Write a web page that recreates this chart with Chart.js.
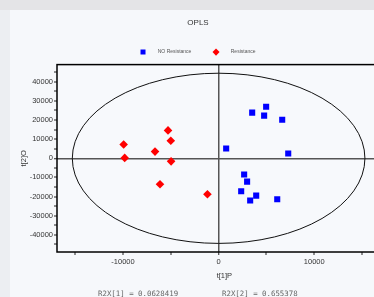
<!DOCTYPE html>
<html>
<head>
<meta charset="utf-8">
<script src="https://cdn.jsdelivr.net/npm/chart.js@4/dist/chart.umd.min.js"></script>
<style>
  html, body { margin: 0; padding: 0; width: 374px; height: 297px; overflow: hidden; background: #e4e4e7; }
  #leftband { position: absolute; left: 0; top: 10px; width: 10px; height: 287px; background: #eceef2; }
  #panel { position: absolute; left: 10px; top: 10px; width: 386px; height: 287px; background: #f6f8fb; }
  #wrap { position: absolute; left: 0; top: 0; width: 396px; height: 297px; }
  .r2x { position: absolute; top: 289px; font: 7.4px "DejaVu Sans Mono", monospace; color: #666; white-space: pre; }
</style>
</head>
<body>
<div id="leftband"></div>
<div id="panel"></div>
<div id="wrap"><canvas id="c" width="396" height="297"></canvas></div>
<div class="r2x" style="left:98px">R2X[1] = 0.0628419</div>
<div class="r2x" style="left:222px">R2X[2] = 0.655378</div>
<script>
// t[1]P / t[2]O scores
const noResX = [4970, 3510, 4760, 6650, 790, 7280, 2670, 2980, 2360, 3930, 3300, 6130];
const noResY = [27000, 23900, 22300, 20200, 5100, 2500, -8500, -12200, -17200, -19500, -22100, -21400];
const resX = [-9930, -9820, -5290, -5000, -6650, -4970, -6130, -1170];
const resY = [7200, 200, 14600, 9200, 3500, -1600, -13600, -18800];
const seriesNames = ['NO Resistance', 'Resistance'];
const xTicks = [-15000, -10000, -5000, 0, 5000, 10000, 15000];
const yTicks = [-45000, -40000, -35000, -30000, -25000, -20000, -15000, -10000, -5000, 0,
  5000, 10000, 15000, 20000, 25000, 30000, 35000, 40000, 45000];
const ellipseAxes = [15300, 44500]; // Hotelling T2 semi-axes

const pts = (xs, ys) => xs.map((x, i) => ({ x, y: ys[i] }));
const setTicks = vals => s => { s.ticks = vals.map(v => ({ value: v })); };

const plotBg = {
  id: 'plotBg',
  beforeDraw(chart) {
    const { ctx, chartArea: a } = chart;
    ctx.save();
    ctx.fillStyle = '#f7f9fc';
    ctx.fillRect(a.left, a.top, a.right - a.left, a.bottom - a.top);
    ctx.restore();
  },
  beforeDatasetsDraw(chart) {
    const { ctx, chartArea: a, scales: { x, y } } = chart;
    const cx = x.getPixelForValue(0), cy = y.getPixelForValue(0);
    const rx = x.getPixelForValue(ellipseAxes[0]) - cx;
    const ry = cy - y.getPixelForValue(ellipseAxes[1]);
    ctx.save();
    ctx.beginPath();
    ctx.rect(a.left, a.top, a.right - a.left, a.bottom - a.top);
    ctx.clip();
    ctx.beginPath();
    ctx.ellipse(cx, cy, rx, ry, 0, 0, Math.PI * 2);
    ctx.strokeStyle = '#111';
    ctx.lineWidth = 1;
    ctx.stroke();
    ctx.restore();
  },
  afterDraw(chart) {
    const { ctx, chartArea: a } = chart;
    ctx.save();
    ctx.strokeStyle = '#000';
    ctx.lineWidth = 1.5;
    ctx.strokeRect(a.left, a.top, a.right - a.left, a.bottom - a.top);
    ctx.restore();
  }
};

const zeroGrid = {
  color: c => (c.tick && c.tick.value === 0 ? '#555' : 'rgba(0,0,0,0)'),
  lineWidth: c => (c.tick && c.tick.value === 0 ? 1.5 : 0),
  tickColor: '#222',
  tickWidth: 1,
  tickLength: 3,
  drawTicks: true
};

const tickFont = { family: 'Liberation Sans', size: 7.5 };
const labelEvery10k = v => (v % 10000 === 0 ? String(v) : '');

new Chart(document.getElementById('c'), {
  type: 'scatter',
  data: {
    datasets: [
      {
        label: seriesNames[0],
        data: pts(noResX, noResY),
        pointStyle: 'rect',
        pointRadius: 4.3,
        backgroundColor: '#0000ff',
        borderColor: '#0000ff',
        borderWidth: 0
      },
      {
        label: seriesNames[1],
        data: pts(resX, resY),
        pointStyle: 'rectRot',
        pointRadius: 4.3,
        backgroundColor: '#ff0000',
        borderColor: '#ff0000',
        borderWidth: 0
      }
    ]
  },
  options: {
    responsive: false,
    animation: false,
    layout: { padding: { left: 0, right: 0, top: 0, bottom: 15 } },
    plugins: {
      title: {
        display: true,
        text: 'OPLS',
        color: '#333',
        font: { family: 'Liberation Sans', size: 8, weight: 'normal' },
        padding: { top: 18, bottom: 4 }
      },
      legend: {
        position: 'top',
        labels: {
          usePointStyle: true,
          color: '#555',
          font: { family: 'Liberation Sans', size: 5, lineHeight: 1 },
          padding: 18,
          generateLabels(chart) {
            const items = Chart.defaults.plugins.legend.labels.generateLabels(chart);
            items.forEach((it, i) => {
              it.text = '       ' + it.text + (i === 0 ? '   ' : '');
              it.lineWidth = 0;
            });
            return items;
          }
        }
      },
      tooltip: { enabled: false }
    },
    scales: {
      x: {
        type: 'linear',
        min: -16900,
        max: 18100,
        border: { display: false },
        grid: zeroGrid,
        afterBuildTicks: setTicks(xTicks),
        ticks: {
          autoSkip: false,
          maxRotation: 0,
          padding: 2,
          color: '#333',
          font: tickFont,
          callback: labelEvery10k
        },
        title: {
          display: true,
          text: 't[1]P',
          color: '#333',
          font: tickFont,
          padding: { top: 2, bottom: 2 }
        },
        afterFit: s => { s.height = 30; }
      },
      y: {
        type: 'linear',
        min: -49000,
        max: 49000,
        border: { display: false },
        grid: zeroGrid,
        afterBuildTicks: setTicks(yTicks),
        ticks: {
          autoSkip: false,
          padding: 1,
          color: '#333',
          font: tickFont,
          callback: labelEvery10k
        },
        title: {
          display: true,
          text: 't[2]O',
          color: '#333',
          font: tickFont,
          padding: { top: 19, bottom: 19 }
        },
        afterFit: s => { s.width = 57; }
      }
    }
  },
  plugins: [plotBg]
});
</script>
</body>
</html>
